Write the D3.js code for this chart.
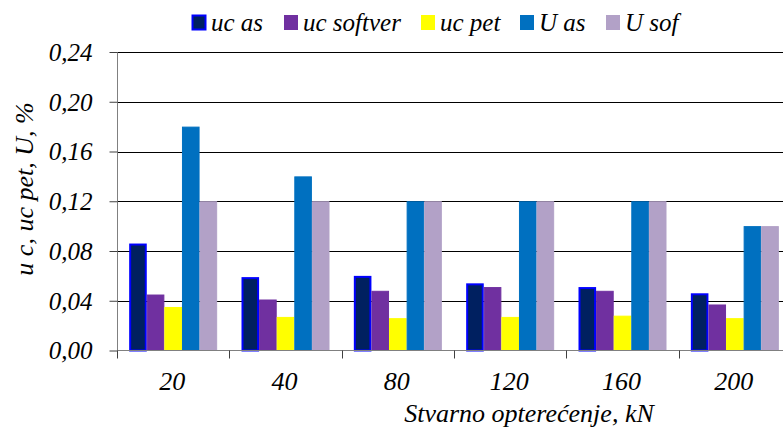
<!DOCTYPE html>
<html><head><meta charset="utf-8">
<script src="https://cdn.jsdelivr.net/npm/d3@7"></script>
</head>
<body style="margin:0;overflow:hidden;background:#fff">
<svg id="c" width="783" height="427" style='font-family:"Liberation Serif","Times New Roman",Times,serif;font-style:italic'></svg>
<script>
const categories = ["20","40","80","120","160","200"];
const seriesNames = ["uc as","uc softver","uc pet","U as","U sof"];
const ucAs      = [0.086,0.059,0.060,0.054,0.051,0.046];
const ucSoftver = [0.045,0.041,0.048,0.051,0.048,0.037];
const ucPet     = [0.035,0.027,0.026,0.027,0.028,0.026];
const UAs       = [0.180,0.140,0.120,0.120,0.120,0.100];
const USof      = [0.120,0.120,0.120,0.120,0.120,0.100];
const yTicks = [0,0.04,0.08,0.12,0.16,0.20,0.24];
const colors = ["#002060","#7030A0","#FFFF00","#0070C0","#B2A1C7"];
const strokes = ["#0000FF","#7030A0","#FFFF00","#0070C0","#B2A1C7"];
const seriesVals = [ucAs,ucSoftver,ucPet,UAs,USof];

const svg = d3.select("#c");
const L=117, R=791, T=52, B=350.5;
const x0 = d3.scaleBand().domain(categories).range([L,R]).padding(0);
const cw = x0.bandwidth();
const gw = 88;
const x1 = d3.scaleBand().domain(d3.range(5)).range([(cw-gw)/2,(cw+gw)/2]).padding(0);
const y = d3.scaleLinear().domain([0,0.24]).range([B,T]);
const fmt = d => d.toFixed(2).replace(".",",");
function styleText(sel){ sel.style("font-family",'"Liberation Serif"').style("font-style","italic").attr("fill","#000"); }

// gridlines
svg.append("g").selectAll("line").data(yTicks.filter(d=>d>0)).join("line")
  .attr("x1",L).attr("x2",R).attr("y1",d=>Math.round(y(d))+0.5).attr("y2",d=>Math.round(y(d))+0.5)
  .attr("stroke","#000").attr("stroke-width",1);

// bars
const data = [];
categories.forEach((c,i)=>seriesVals.forEach((s,j)=>data.push({c,j,v:s[i]})));
svg.append("g").selectAll("rect").data(data).join("rect")
  .attr("x",d=>x0(d.c)+x1(d.j)+ (d.j===0?1:0.5))
  .attr("width",d=>x1.bandwidth()-(d.j===0?2:1))
  .attr("y",d=>y(d.v)+(d.j===0?1:0.5))
  .attr("height",d=>B-y(d.v)-(d.j===0?1:0.5))
  .attr("fill",d=>colors[d.j])
  .attr("stroke",d=>strokes[d.j])
  .attr("stroke-width",d=>d.j===0?2:1);

// y axis
const yAxis = d3.axisLeft(y).tickValues(yTicks).tickFormat(fmt).tickSize(8).tickPadding(8);
const gy = svg.append("g").attr("transform",`translate(${L+0.5},0)`).call(yAxis);
gy.attr("font-family",null).attr("font-size",null);
gy.select(".domain").attr("stroke","#808080").attr("d",`M0,${T}V${B}`);
gy.selectAll(".tick line").attr("stroke","#404040").attr("x1",-8).attr("x2",0);
const yt = gy.selectAll(".tick text").attr("font-size",25).attr("dy","0.33em").attr("x",-25);
styleText(yt);

// x axis
svg.append("line").attr("x1",L).attr("x2",R).attr("y1",B).attr("y2",B).attr("stroke","#808080");
const bTicks = categories.map(c=>x0(c)).concat([R]);
svg.append("g").selectAll("line").data(bTicks).join("line")
  .attr("x1",d=>Math.round(d)+0.5).attr("x2",d=>Math.round(d)+0.5).attr("y1",B).attr("y2",B+8)
  .attr("stroke","#404040");
const xt = svg.append("g").selectAll("text").data(categories).join("text")
  .attr("x",d=>x0(d)+cw/2-1).attr("y",390).attr("text-anchor","middle").attr("font-size",26).text(d=>d);
styleText(xt);

// titles
styleText(svg.append("text").attr("x",529).attr("y",422).attr("text-anchor","middle").attr("font-size",26)
  .text("Stvarno opterećenje, kN"));
styleText(svg.append("text").attr("transform","translate(33,189) rotate(-90)").attr("text-anchor","middle")
  .attr("font-size",26).text("u c, uc pet, U, %"));

// legend
const legX = [192,284,421,520,606];
const lg = svg.append("g").selectAll("g").data(seriesNames).join("g")
  .attr("transform",(d,i)=>`translate(${legX[i]},0)`);
lg.append("rect").attr("x",0.5).attr("y",15.5).attr("width",13).attr("height",14)
  .attr("fill",(d,i)=>colors[i]).attr("stroke",(d,i)=>i===0?"#0000FF":colors[i]).attr("stroke-width",(d,i)=>i===0?2:1);
styleText(lg.append("text").attr("x",19).attr("y",31).attr("font-size",25).text(d=>d));
</script>
</body></html>
